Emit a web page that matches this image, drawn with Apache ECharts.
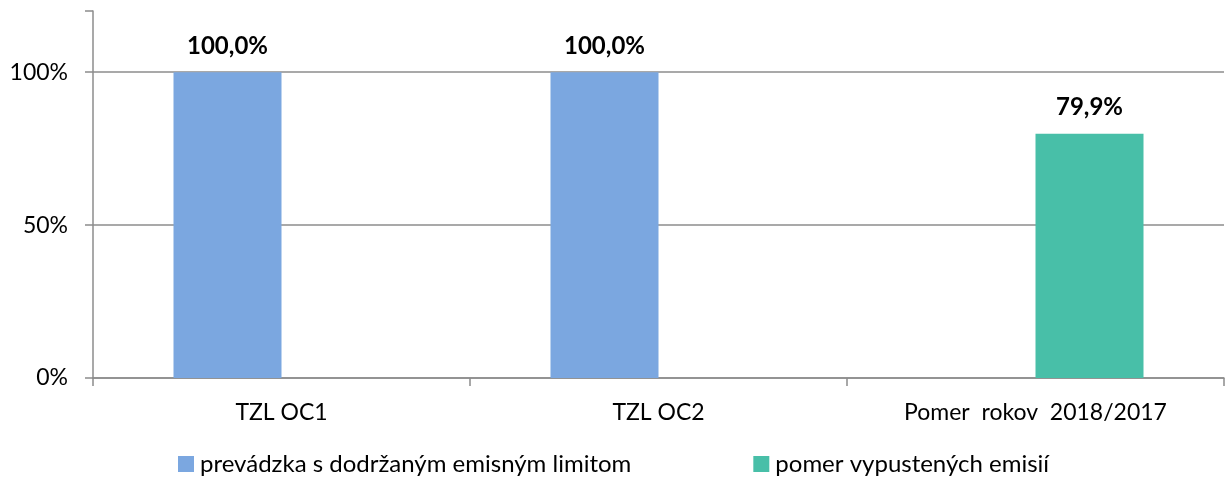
<!DOCTYPE html>
<html>
<head>
<meta charset="utf-8">
<script src="https://cdn.jsdelivr.net/npm/echarts@6/dist/echarts.min.js"></script>
<style>html,body{margin:0;padding:0;background:#fff;}#c{width:1228px;height:479px;}</style>
</head>
<body>
<div id="c"></div>
<script>
const categories = ['TZL OC1', 'TZL OC2', 'Pomer  rokov  2018/2017'];
const seriesNames = ['prevádzka s dodržaným emisným limitom', 'pomer vypustených emisií'];
const compliance = [1.0, 1.0, null];
const ratio = [null, null, 0.799];
const yTicks = [0, 0.5, 1.0];

const chart = echarts.init(document.getElementById('c'));
const font = 'Lato, "Open Sans", sans-serif';
function pct(v) { return (v * 100).toFixed(1).replace('.', ',') + '%'; }
chart.setOption({
  animation: false,
  textStyle: { fontFamily: font },
  grid: { left: 93, right: 4, top: 11, bottom: 101, containLabel: false },
  legend: {
    bottom: -2,
    left: 173,
    itemWidth: 16,
    itemHeight: 16,
    itemGap: 122,
    icon: 'rect',
    textStyle: { fontSize: 24, color: '#000', fontFamily: font, padding: [0, 0, 0, 1] },
    data: seriesNames
  },
  xAxis: {
    type: 'category',
    data: categories,
    axisLine: { lineStyle: { color: '#8c8c8c', width: 1.5 } },
    axisTick: { show: true, length: 8, lineStyle: { color: '#8c8c8c', width: 1.5 } },
    axisLabel: { fontSize: 23, color: '#000', margin: 23, fontFamily: font }
  },
  yAxis: {
    type: 'value',
    min: 0,
    max: 1.2,
    interval: 0.5,
    axisLine: { show: true, lineStyle: { color: '#8c8c8c', width: 1.5 } },
    axisTick: { show: true, length: 8, lineStyle: { color: '#8c8c8c', width: 1.5 } },
    splitLine: { show: true, lineStyle: { color: ['#8c8c8c', '#8c8c8c', '#8c8c8c', 'rgba(0,0,0,0)'], width: 1.5 } },
    axisLabel: {
      fontSize: 23, color: '#000', margin: 25, fontFamily: font,
      formatter: function (v) { return yTicks.indexOf(v) >= 0 ? Math.round(v * 100) + '%' : ''; }
    }
  },
  series: [
    {
      name: seriesNames[0], type: 'bar', data: compliance,
      barWidth: 108, barGap: '0%',
      itemStyle: { color: '#7ba7e0' },
      label: { show: true, position: 'top', distance: 14, fontSize: 24, fontWeight: 'bold', color: '#000', fontFamily: font, formatter: p => pct(p.value) }
    },
    {
      name: seriesNames[1], type: 'bar', data: ratio,
      barWidth: 108,
      itemStyle: { color: '#48bfa8' },
      label: { show: true, position: 'top', distance: 14, fontSize: 24, fontWeight: 'bold', color: '#000', fontFamily: font, formatter: p => pct(p.value) }
    }
  ]
});
</script>
</body>
</html>
